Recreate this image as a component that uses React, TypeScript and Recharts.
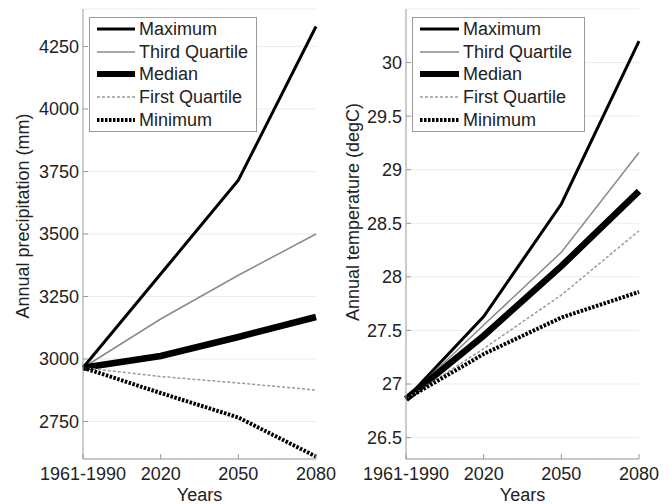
import { LineChart, Line, XAxis, YAxis, CartesianGrid, Legend, Label } from "recharts";

const years = ["1961-1990", "2020", "2050", "2080"];

// annual precipitation (mm)
const precipMax = [2965, 3340, 3715, 4330];
const precipQ3 = [2965, 3160, 3335, 3500];
const precipMedian = [2965, 3012, 3088, 3168];
const precipQ1 = [2965, 2930, 2904, 2876];
const precipMin = [2965, 2864, 2766, 2610];
const precipTicks = [2750, 3000, 3250, 3500, 3750, 4000, 4250];

// annual temperature (degC)
const tempMax = [26.86, 27.63, 28.68, 30.2];
const tempQ3 = [26.86, 27.55, 28.23, 29.16];
const tempMedian = [26.86, 27.45, 28.1, 28.8];
const tempQ1 = [26.86, 27.33, 27.83, 28.43];
const tempMin = [26.86, 27.28, 27.62, 27.86];
const tempTicks = [26.5, 27, 27.5, 28, 28.5, 29, 29.5, 30];

const series = [
     { key: "max", name: "Maximum", stroke: "#000000", width: 3, dash: undefined, legendWidth: 3 },
     { key: "q3", name: "Third Quartile", stroke: "#8a8a8a", width: 1.5, dash: undefined, legendWidth: 1.5 },
     { key: "median", name: "Median", stroke: "#000000", width: 6.5, dash: undefined, legendWidth: 6 },
     { key: "q1", name: "First Quartile", stroke: "#9a9a9a", width: 1.5, dash: "3 2", legendWidth: 1.5 },
     { key: "min", name: "Minimum", stroke: "#000000", width: 4, dash: "2.5 1.5", legendWidth: 4 },
];

const font = "'Liberation Sans', Arial, sans-serif";
const axisGray = "#999999";
const textColor = "#222222";

function buildRows(max: number[], q3: number[], median: number[], q1: number[], min: number[]) {
     return years.map((year, i) => ({
          year,
          max: max[i],
          q3: q3[i],
          median: median[i],
          q1: q1[i],
          min: min[i],
     }));
}

const precipData = buildRows(precipMax, precipQ3, precipMedian, precipQ1, precipMin);
const tempData = buildRows(tempMax, tempQ3, tempMedian, tempQ1, tempMin);

function LegendBox({ width, lineLen }: { width: number; lineLen: number }) {
     return (
          <div
               style={{
                    width,
                    boxSizing: "border-box",
                    border: `1px solid ${axisGray}`,
                    background: "#fff",
                    fontFamily: font,
                    fontSize: 18,
                    color: textColor,
               }}
          >
               {series.map((s) => (
                    <div
                         key={s.key}
                         style={{ display: "flex", alignItems: "center", height: 22.6 }}
                    >
                         <svg width={lineLen} height={10} style={{ marginLeft: 7, marginRight: 4 }}>
                              <line
                                   x1={0}
                                   x2={lineLen}
                                   y1={5}
                                   y2={5}
                                   stroke={s.stroke}
                                   strokeWidth={s.legendWidth}
                                   strokeDasharray={s.dash}
                              />
                         </svg>
                         <span style={{ whiteSpace: "nowrap", lineHeight: "20px" }}>{s.name}</span>
                    </div>
               ))}
          </div>
     );
}

type PanelProps = {
     data: typeof precipData;
     width: number;
     rightMargin: number;
     yAxisWidth: number;
     domain: [number, number];
     ticks: number[];
     yLabel: string;
     labelX: number;
     labelY: number;
     legendLeft: number;
     legendWidth: number;
     legendLine: number;
};

function Panel(p: PanelProps) {
     return (
          <LineChart
               width={p.width}
               height={504}
               data={p.data}
               margin={{ top: 9, right: p.rightMargin, bottom: 0, left: 0 }}
               style={{ overflow: "visible" }}
          >
               <CartesianGrid horizontal vertical={false} stroke="#ececec" />
               <XAxis
                    dataKey="year"
                    type="category"
                    interval={0}
                    height={45}
                    padding={{ left: 0, right: 0 }}
                    axisLine={{ stroke: axisGray }}
                    tickLine={{ stroke: axisGray }}
                    tickSize={-5}
                    tickMargin={13}
                    tick={{ fill: textColor, fontSize: 18, fontFamily: font }}
               >
                    <Label
                         value="Years"
                         position="insideBottom"
                         offset={3}
                         style={{ fill: textColor, fontSize: 18, fontFamily: font }}
                    />
               </XAxis>
               <XAxis
                    xAxisId="top"
                    dataKey="year"
                    type="category"
                    orientation="top"
                    height={0}
                    interval={0}
                    axisLine={{ stroke: axisGray }}
                    tickLine={{ stroke: axisGray }}
                    tickSize={-5}
                    tick={false}
               />
               <YAxis
                    type="number"
                    domain={p.domain}
                    ticks={p.ticks}
                    interval={0}
                    allowDataOverflow
                    width={p.yAxisWidth}
                    axisLine={{ stroke: axisGray }}
                    tickLine={{ stroke: axisGray }}
                    tickSize={-5}
                    tickMargin={9}
                    tick={{ fill: textColor, fontSize: 18, fontFamily: font }}
               >
                    <Label
                         content={() => (
                              <text
                                   x={p.labelX}
                                   y={p.labelY}
                                   transform={`rotate(-90 ${p.labelX} ${p.labelY})`}
                                   textAnchor="middle"
                                   fill={textColor}
                                   fontSize={18}
                                   fontFamily={font}
                              >
                                   {p.yLabel}
                              </text>
                         )}
                    />
               </YAxis>
               <YAxis
                    yAxisId="right"
                    orientation="right"
                    type="number"
                    domain={p.domain}
                    ticks={p.ticks}
                    interval={0}
                    allowDataOverflow
                    width={0}
                    axisLine={{ stroke: axisGray }}
                    tickLine={{ stroke: axisGray }}
                    tickSize={-5}
                    tick={false}
               />
               <Legend
                    layout="vertical"
                    align="center"
                    verticalAlign="middle"
                    wrapperStyle={{ left: p.legendLeft, top: 17, width: p.legendWidth }}
                    content={() => <LegendBox width={p.legendWidth} lineLen={p.legendLine} />}
               />
               {series.map((s) => (
                    <Line
                         key={s.key}
                         type="linear"
                         dataKey={s.key}
                         name={s.name}
                         stroke={s.stroke}
                         strokeWidth={s.width}
                         strokeDasharray={s.dash}
                         dot={false}
                         activeDot={false}
                         isAnimationActive={false}
                    />
               ))}
          </LineChart>
     );
}

export default function App() {
     return (
          <div
               style={{
                    position: "absolute",
                    left: 0,
                    top: 0,
                    width: 671,
                    height: 504,
                    background: "#fff",
               }}
          >
               <div style={{ position: "absolute", left: 0, top: 0 }}>
                    <Panel
                         data={precipData}
                         width={345}
                         rightMargin={29}
                         yAxisWidth={83}
                         domain={[2600, 4400]}
                         ticks={precipTicks}
                         yLabel="Annual precipitation (mm)"
                         labelX={29}
                         labelY={216}
                         legendLeft={89}
                         legendWidth={168}
                         legendLine={38}
                    />
               </div>
               <div style={{ position: "absolute", left: 335, top: 0 }}>
                    <Panel
                         data={tempData}
                         width={336}
                         rightMargin={32}
                         yAxisWidth={71}
                         domain={[26.3, 30.5]}
                         ticks={tempTicks}
                         yLabel="Annual temperature (degC)"
                         labelX={24}
                         labelY={212}
                         legendLeft={77}
                         legendWidth={173}
                         legendLine={39}
                    />
               </div>
          </div>
     );
}
